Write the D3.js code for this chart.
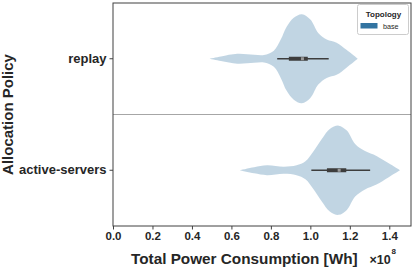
<!DOCTYPE html>
<html>
<head>
<meta charset="utf-8">
<script src="https://cdn.jsdelivr.net/npm/d3@7"></script>
<style>
  body { margin: 0; background: #fff; }
  svg text { font-family: "Liberation Sans", Arial, sans-serif; fill: #262626; }
</style>
</head>
<body>
<div id="chart"></div>
<script>
// categories and tick labels
var categories = ["replay", "active-servers"];
var xTicks = [0, 0.2, 0.4, 0.6, 0.8, 1.0, 1.2, 1.4];

// violin outlines (x in 1e8 Wh, density scaled to 1 at the peak)
var replayX       = [0.488, 0.547, 0.63, 0.715, 0.765, 0.815, 0.85, 0.88, 0.916, 0.957, 1.0, 1.04, 1.083, 1.133, 1.183, 1.24];
var replayDensity = [0, 0.05, 0.11, 0.09, 0.085, 0.18, 0.43, 0.72, 0.92, 1.0, 0.88, 0.58, 0.43, 0.36, 0.20, 0];
var activeX       = [0.64, 0.715, 0.78, 0.866, 0.93, 0.975, 1.017, 1.058, 1.10, 1.143, 1.185, 1.227, 1.277, 1.335, 1.395, 1.454];
var activeDensity = [0, 0.07, 0.11, 0.08, 0.11, 0.2, 0.43, 0.7, 0.93, 1.0, 0.89, 0.59, 0.43, 0.32, 0.16, 0];

// inner box: whisker low, q1, median, q3, whisker high
var whiskerLow  = [0.832, 1.005];
var q1          = [0.891, 1.084];
var medians     = [0.96, 1.146];
var q3          = [0.987, 1.182];
var whiskerHigh = [1.093, 1.303];

var margin = {top: 3, right: 4, bottom: 42, left: 113},
    totalW = 415, totalH = 268,
    width = totalW - margin.left - margin.right,
    height = totalH - margin.top - margin.bottom;

var x = d3.scaleLinear().domain([0, 1.51]).range([0, width]);
var y = d3.scaleBand().domain(categories).range([0, height]).padding(0);
var halfW = y.bandwidth() * 0.4;

var svg = d3.select("#chart").append("svg")
    .attr("width", totalW)
    .attr("height", totalH);
var g = svg.append("g")
    .attr("transform", "translate(" + margin.left + "," + margin.top + ")");

var violins = [
  {cat: categories[0], xs: replayX, ds: replayDensity},
  {cat: categories[1], xs: activeX, ds: activeDensity}
];

violins.forEach(function(v, i) {
  var cy = y(v.cat) + y.bandwidth() / 2;
  var pts = v.xs.map(function(d, j) { return {x: d, d: v.ds[j]}; });
  var area = d3.area()
      .x(function(d) { return x(d.x); })
      .y0(function(d) { return cy - d.d * halfW; })
      .y1(function(d) { return cy + d.d * halfW; })
      .curve(d3.curveCatmullRom.alpha(0.5));
  g.append("path")
    .datum(pts)
    .attr("d", area)
    .attr("fill", "#3274a1")
    .attr("fill-opacity", 0.3);

  // whisker
  g.append("line")
    .attr("x1", x(whiskerLow[i])).attr("x2", x(whiskerHigh[i]))
    .attr("y1", cy).attr("y2", cy)
    .attr("stroke", "#3d3d3d").attr("stroke-width", 1.3);
  // box
  g.append("rect")
    .attr("x", x(q1[i])).attr("width", x(q3[i]) - x(q1[i]))
    .attr("y", cy - 2).attr("height", 4)
    .attr("fill", "#3d3d3d");
  // median
  g.append("rect")
    .attr("x", x(medians[i]) - 1.5).attr("width", 3)
    .attr("y", cy - 1.5).attr("height", 3)
    .attr("fill", "#9a9a9a");
});

// divider between categories
g.append("line")
  .attr("x1", 0).attr("x2", width)
  .attr("y1", y(categories[1])).attr("y2", y(categories[1]))
  .attr("stroke", "#a6a6a6").attr("stroke-width", 1);

// frame
g.append("rect")
  .attr("x", 0).attr("y", 0)
  .attr("width", width).attr("height", height)
  .attr("fill", "none")
  .attr("stroke", "#404040").attr("stroke-width", 1);

// x axis
var xAxis = g.append("g")
  .attr("transform", "translate(0," + height + ")")
  .call(d3.axisBottom(x).tickValues(xTicks).tickFormat(d3.format(".1f")).tickSize(3.5).tickPadding(2.5));
xAxis.select(".domain").remove();
xAxis.selectAll("line").attr("stroke", "#404040");
xAxis.selectAll("text")
  .style("font-size", "11.5px").style("font-weight", "bold");

// y axis
var yAxis = g.append("g")
  .call(d3.axisLeft(y).tickSize(3.5).tickPadding(3));
yAxis.select(".domain").remove();
yAxis.selectAll("line").attr("stroke", "#404040");
yAxis.selectAll("text")
  .style("font-size", "13px").style("font-weight", "bold");

// axis titles
svg.append("text")
  .attr("x", 131).attr("y", 264)
  .style("font-size", "15.3px").style("font-weight", "bold")
  .text("Total Power Consumption [Wh]");
svg.append("text")
  .attr("x", 369.5).attr("y", 264)
  .style("font-size", "12.5px").style("font-weight", "bold")
  .text("\u00d710");
svg.append("text")
  .attr("x", 391.5).attr("y", 254)
  .style("font-size", "8px").style("font-weight", "bold")
  .text("8");
svg.append("text")
  .attr("transform", "translate(13," + (margin.top + height / 2) + ") rotate(-90)")
  .attr("text-anchor", "middle")
  .style("font-size", "15px").style("font-weight", "bold")
  .text("Allocation Policy");

// legend
var leg = svg.append("g").attr("transform", "translate(357.5,4.5)");
leg.append("rect")
  .attr("width", 51).attr("height", 30).attr("rx", 2)
  .attr("fill", "#fff").attr("fill-opacity", 0.8)
  .attr("stroke", "#cccccc").attr("stroke-width", 1);
leg.append("text")
  .attr("x", 26).attr("y", 12)
  .attr("text-anchor", "middle")
  .style("font-size", "8px").style("font-weight", "bold")
  .text("Topology");
leg.append("rect")
  .attr("x", 3).attr("y", 18.5).attr("width", 17).attr("height", 5.5)
  .attr("fill", "#3274a1");
leg.append("text")
  .attr("x", 25.5).attr("y", 24.5)
  .style("font-size", "7.2px")
  .text("base");
</script>
</body>
</html>
